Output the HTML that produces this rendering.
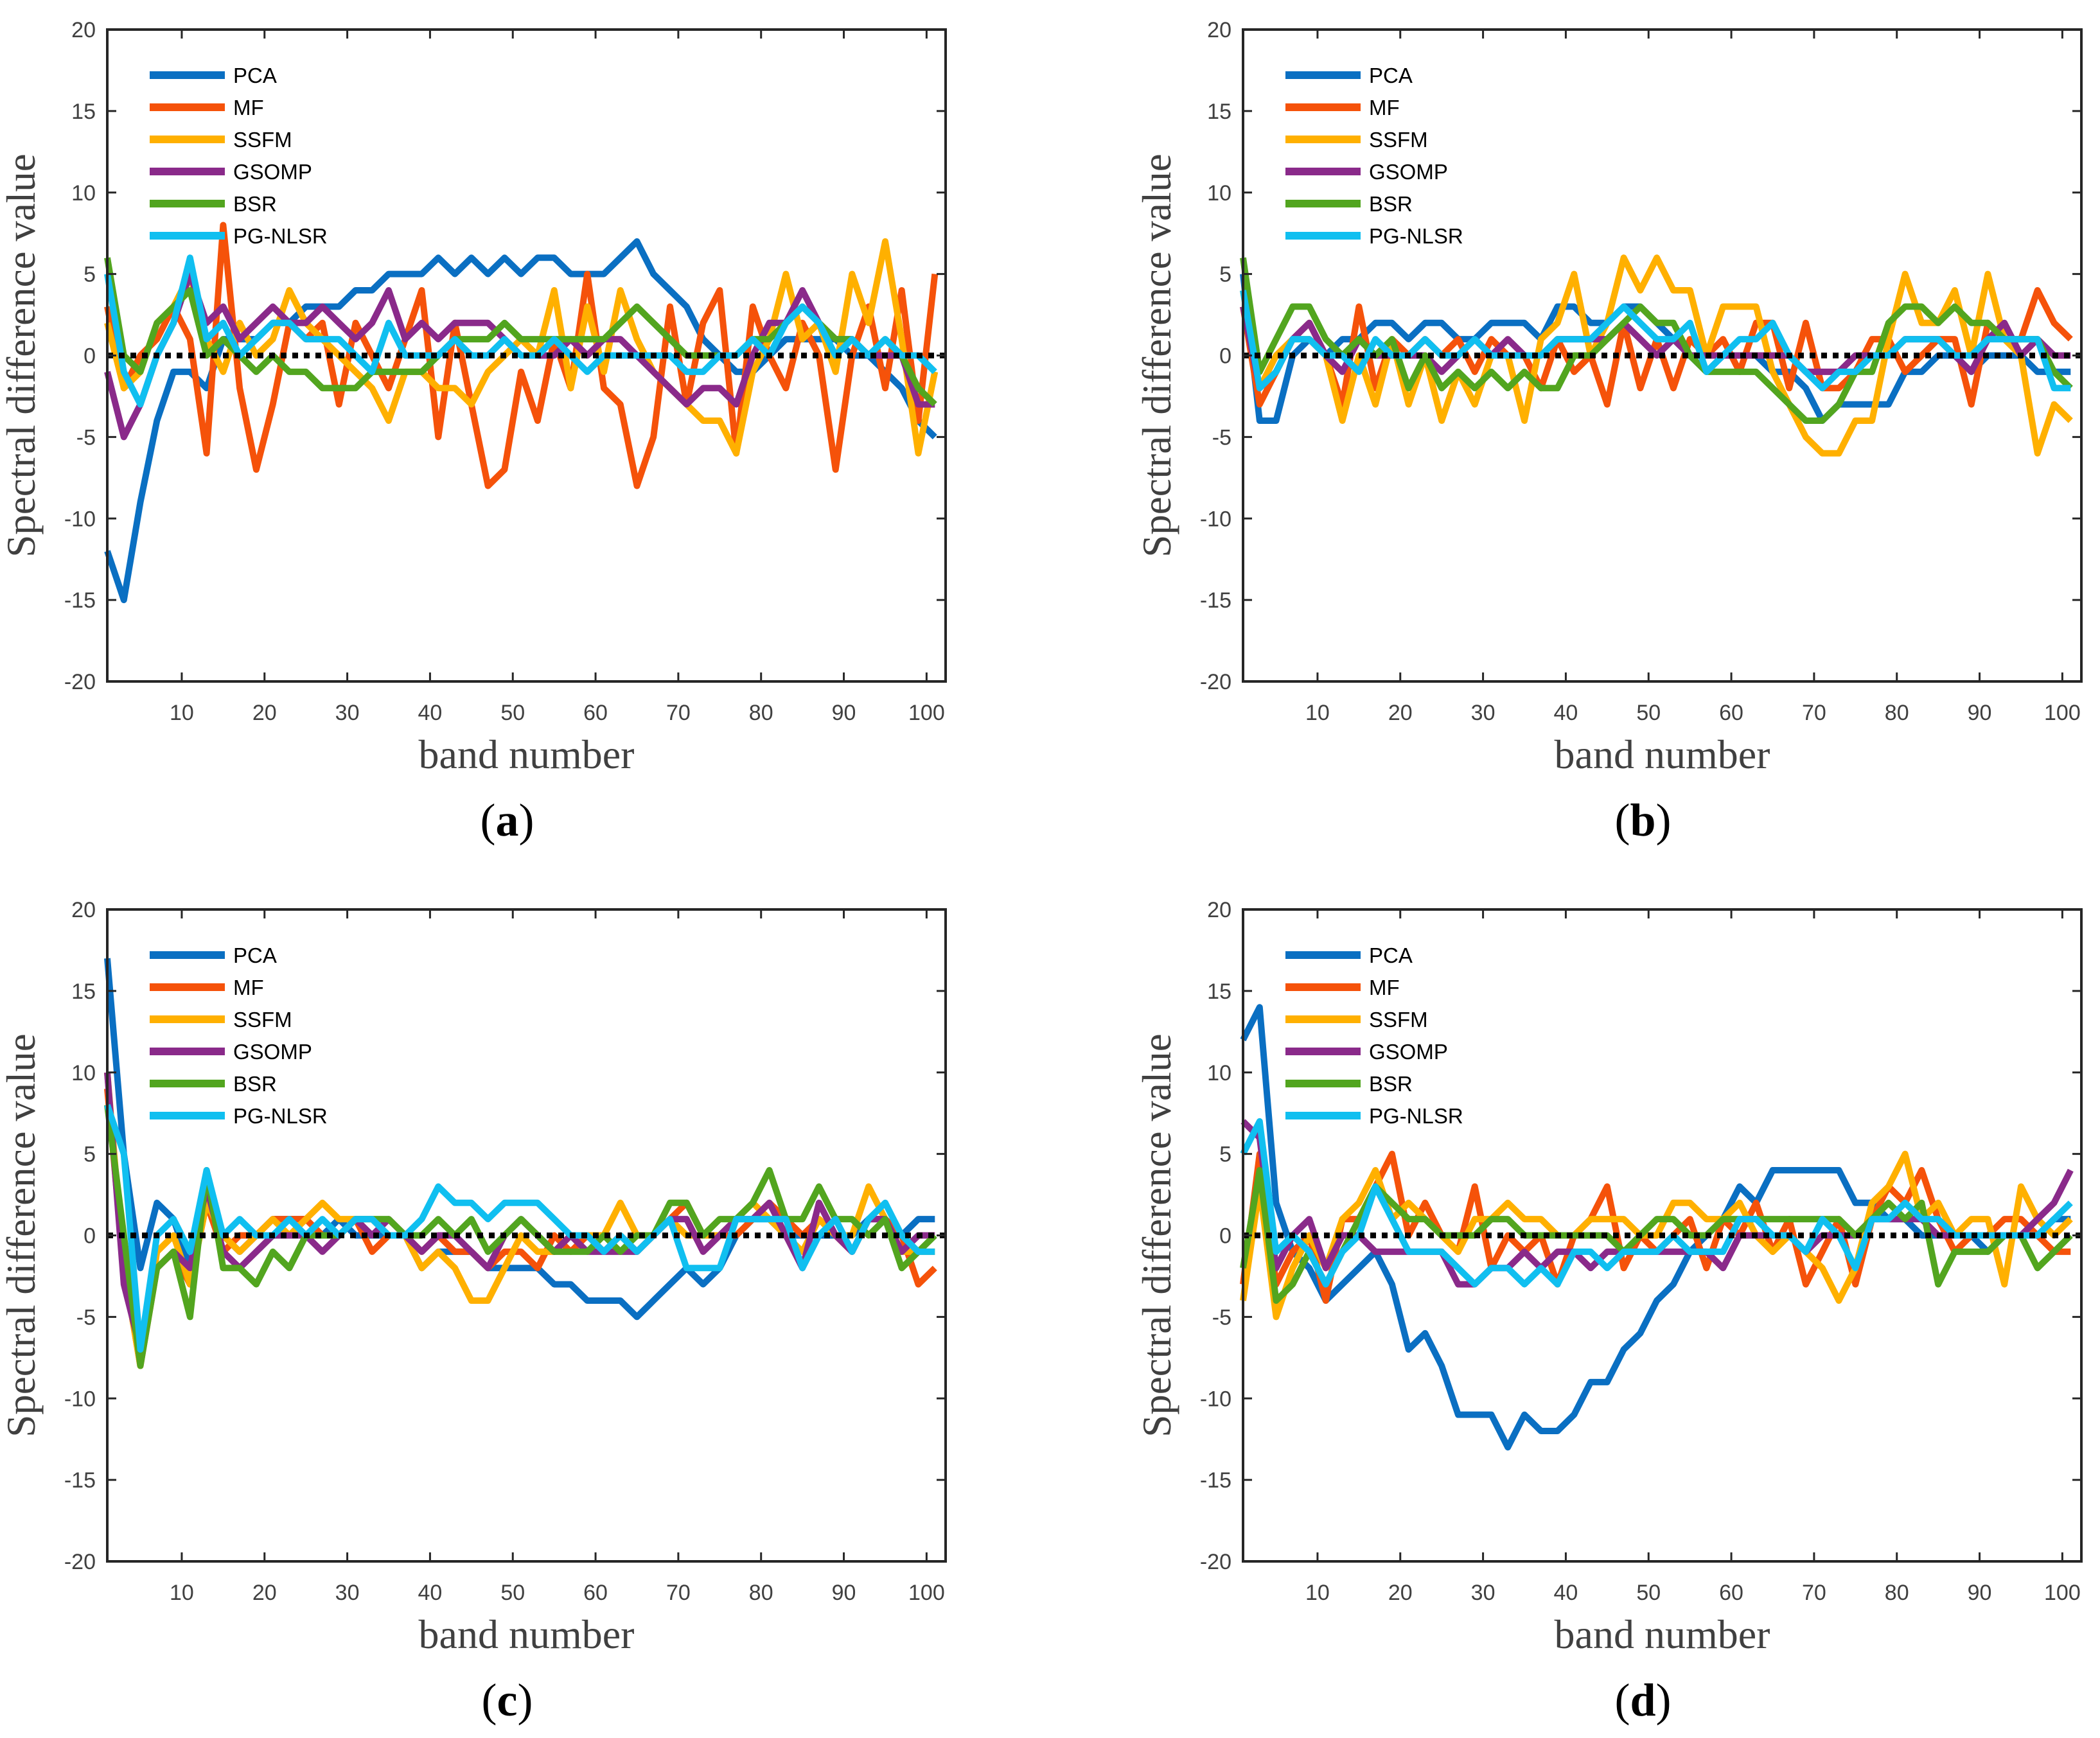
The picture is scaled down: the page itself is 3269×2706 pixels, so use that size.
<!DOCTYPE html>
<html><head><meta charset="utf-8"><style>
html,body{margin:0;padding:0;background:#fff;}
svg{display:block;}
</style></head><body>
<svg id="fig" width="3269" height="2706" viewBox="0 0 3269 2706" xmlns="http://www.w3.org/2000/svg"></svg>
<script>
const bands=[1,3,5,7,9,11,13,15,17,19,21,23,25,27,29,31,33,35,37,39,41,43,45,47,49,51,53,55,57,59,61,63,65,67,69,71,73,75,77,79,81,83,85,87,89,91,93,95,97,99,101];
const seriesNames=["PCA","MF","SSFM","GSOMP","BSR","PG-NLSR"];
const xTicks=[10,20,30,40,50,60,70,80,90,100];
const yTicks=[-20,-15,-10,-5,0,5,10,15,20];
const panelLabels=["(a)","(b)","(c)","(d)"];
// panel a
const a_PCA=[-12,-15,-9,-4,-1,-1,-2,1,1,1,2,2,3,3,3,4,4,5,5,5,6,5,6,5,6,5,6,6,5,5,5,6,7,5,4,3,1,0,-1,-1,0,1,1,1,1,0,0,-1,-2,-4,-5];
const a_MF=[3,-2,0,1,3,1,-6,8,-2,-7,-3,2,1,2,-3,2,0,-2,1,4,-5,2,-3,-8,-7,-1,-4,1,-2,5,-2,-3,-8,-5,3,-3,2,4,-6,3,0,-2,2,0,-7,0,3,-2,4,-4,5];
const a_SSFM=[2,-2,-1,2,3,5,1,-1,2,0,1,4,2,1,0,-1,-2,-4,-1,-1,-2,-2,-3,-1,0,1,0,4,-2,3,-1,4,1,-1,-2,-3,-4,-4,-6,-1,1,5,1,2,-1,5,2,7,1,-6,-1];
const a_GSOMP=[-1,-5,-3,0,2,5,2,3,1,2,3,2,2,3,2,1,2,4,1,2,1,2,2,2,1,0,0,0,1,0,1,1,0,-1,-2,-3,-2,-2,-3,0,2,2,4,2,1,1,0,0,0,-3,-3];
const a_BSR=[6,0,-1,2,3,4,0,1,0,-1,0,-1,-1,-2,-2,-2,-1,-1,-1,-1,0,1,1,1,2,1,1,1,1,1,1,2,3,2,1,0,0,0,0,1,1,2,3,2,1,1,0,1,0,-2,-3];
const a_PG=[5,-1,-3,0,2,6,1,2,0,1,2,2,1,1,1,0,-1,2,0,0,0,1,0,0,1,0,0,1,0,-1,0,0,0,0,0,-1,-1,0,0,1,0,2,3,2,0,1,0,1,0,0,-1];
// panel b
const b_PCA=[5,-4,-4,0,1,0,1,1,2,2,1,2,2,1,1,2,2,2,1,3,3,2,2,3,3,2,1,0,-1,0,0,0,-1,-1,-2,-4,-3,-3,-3,-3,-1,-1,0,0,-1,0,0,0,-1,-1,-1];
const b_MF=[3,-3,-1,1,2,0,-3,3,-2,1,0,1,0,1,-1,1,0,0,-2,1,-1,0,-3,2,-2,1,-2,1,0,1,-1,2,2,-2,2,-2,-2,-1,1,1,-1,0,1,1,-3,2,1,1,4,2,1];
const b_SSFM=[4,-2,0,1,1,0,-4,0,-3,1,-3,0,-4,-1,-3,0,0,-4,1,2,5,0,2,6,4,6,4,4,0,3,3,3,-1,-3,-5,-6,-6,-4,-4,1,5,2,2,4,0,5,1,0,-6,-3,-4];
const b_GSOMP=[3,-2,-1,1,2,0,-1,1,0,0,0,0,-1,0,1,0,1,0,0,1,1,1,1,2,1,0,1,0,0,0,0,0,0,0,-1,-1,-1,0,0,0,1,1,1,0,-1,1,2,0,1,0,0];
const b_BSR=[6,-1,1,3,3,1,0,1,0,1,-2,0,-2,-1,-2,-1,-2,-1,-2,-2,0,0,1,2,3,2,2,0,-1,-1,-1,-1,-2,-3,-4,-4,-3,-1,-1,2,3,3,2,3,2,2,1,1,1,-1,-2];
const b_PG=[4,-2,-1,1,1,0,0,-1,1,0,0,1,0,0,1,0,0,0,0,1,1,1,2,3,2,1,1,2,-1,0,1,1,2,0,-1,-2,-1,-1,0,0,1,1,1,0,0,1,1,1,1,-2,-2];
// panel c
const c_PCA=[17,5,-2,2,1,-2,3,0,-1,0,1,1,1,0,1,0,0,0,0,-2,-1,-1,-1,-2,-2,-2,-2,-3,-3,-4,-4,-4,-5,-4,-3,-2,-3,-2,0,1,1,0,0,0,0,0,1,1,0,1,1];
const c_MF=[9,-2,-8,-2,-1,-3,2,-1,0,0,1,1,1,0,0,1,-1,0,0,-1,0,-1,-1,-2,-1,-1,-2,0,-1,0,-1,0,-1,0,1,2,0,0,0,1,2,1,0,1,0,-1,1,1,0,-3,-2];
const c_SSFM=[10,-2,-8,-1,0,-3,2,0,-1,0,1,0,1,2,1,1,1,0,0,-2,-1,-2,-4,-4,-2,0,-1,-1,0,0,0,2,0,0,1,0,0,0,1,2,1,0,-1,1,0,0,3,1,-1,-1,-1];
const c_GSOMP=[10,-3,-7,-2,-1,-2,3,-1,-2,-1,0,0,0,-1,0,1,0,1,0,-1,0,0,-1,-2,0,1,0,-1,0,-1,-1,-1,-1,0,1,1,-1,0,1,1,2,0,-2,2,0,-1,1,1,-1,0,0];
const c_BSR=[8,0,-8,-2,-1,-5,4,-2,-2,-3,-1,-2,0,0,0,1,1,1,0,0,1,0,1,-1,0,1,0,-1,-1,-1,0,-1,0,0,2,2,0,1,1,2,4,1,1,3,1,1,0,1,-2,-1,0];
const c_PG=[8,5,-7,0,1,-1,4,0,1,0,0,1,0,1,0,1,1,0,0,1,3,2,2,1,2,2,2,1,0,0,-1,0,-1,0,1,-2,-2,-2,1,1,1,1,-2,0,1,-1,1,2,0,-1,-1];
// panel d
const d_PCA=[12,14,2,-1,-2,-4,-3,-2,-1,-3,-7,-6,-8,-11,-11,-11,-13,-11,-12,-12,-11,-9,-9,-7,-6,-4,-3,-1,0,1,3,2,4,4,4,4,4,2,2,1,1,0,0,0,0,-1,0,0,0,1,1];
const d_MF=[-3,5,-3,-1,0,-4,1,1,3,5,0,2,0,-1,3,-2,0,-1,0,-3,0,1,3,-2,0,-1,0,1,-2,1,0,2,-1,1,-3,-1,1,-3,1,3,2,4,1,-1,0,0,1,1,0,-1,-1];
const d_SSFM=[-4,3,-5,-2,0,-2,1,2,4,1,2,1,0,-1,1,1,2,1,1,0,0,1,1,1,0,0,2,2,1,1,2,0,-1,0,-1,-2,-4,-2,2,3,5,1,2,0,1,1,-3,3,1,0,1];
const d_GSOMP=[7,6,-2,0,1,-2,0,0,-1,-1,-1,-1,-1,-3,-3,-2,-2,-1,-2,-1,-1,-2,-1,-1,-1,-1,-1,-1,-1,-2,0,0,0,0,-1,0,0,0,1,1,1,1,0,0,0,0,0,0,1,2,4];
const d_BSR=[-2,4,-4,-3,-1,-3,-1,1,3,2,1,1,0,0,0,1,1,0,0,0,0,0,0,-1,0,1,1,0,0,1,1,1,1,1,1,1,1,0,1,2,1,2,-3,-1,-1,-1,0,0,-2,-1,0];
const d_PG=[5,7,-1,0,-1,-3,-1,0,3,1,-1,-1,-1,-2,-3,-2,-2,-3,-2,-3,-1,-1,-2,-1,-1,-1,0,-1,-1,-1,1,1,0,0,-1,1,0,-2,1,1,2,1,1,0,0,0,0,0,0,1,2];

const panelData=[[a_PCA,a_MF,a_SSFM,a_GSOMP,a_BSR,a_PG],[b_PCA,b_MF,b_SSFM,b_GSOMP,b_BSR,b_PG],[c_PCA,c_MF,c_SSFM,c_GSOMP,c_BSR,c_PG],[d_PCA,d_MF,d_SSFM,d_GSOMP,d_BSR,d_PG]];
const colors=["#0a6fc2","#f5520a","#ffb000","#8a2a8a","#52a51f","#10bff0"];

const NS="http://www.w3.org/2000/svg";
const svg=document.getElementById('fig');
function mk(tag,attrs,parent){const e=document.createElementNS(NS,tag);for(const k in attrs)e.setAttribute(k,attrs[k]);(parent||svg).appendChild(e);return e;}

const boxes=[{l:167,r:1472,t:46,b:1061},{l:1935,r:3240,t:46,b:1061},{l:167,r:1472,t:1416,b:2431},{l:1935,r:3240,t:1416,b:2431}];
const XMIN=1,XMAX=102.3,YMIN=-20,YMAX=20;

boxes.forEach((B,pi)=>{
  const g=mk('g',{});
  
  
  const sx=v=>B.l+(v-XMIN)/(XMAX-XMIN)*(B.r-B.l);
  const sy=v=>B.b-(v-YMIN)/(YMAX-YMIN)*(B.b-B.t);
  panelData[pi].forEach((vals,si)=>{
    const pts=bands.map((b,i)=>sx(b).toFixed(1)+','+sy(vals[i]).toFixed(1)).join(' ');
    const pl=mk('polyline',{points:pts,fill:'none',stroke:colors[si],'stroke-width':10,'stroke-linejoin':'round'},g);
    
    
  });
  const z=mk('line',{x1:B.l,x2:B.r,y1:sy(0),y2:sy(0),stroke:'#000','stroke-width':9,'stroke-dasharray':'9 9'},g);
  
  
  const bx=mk('rect',{x:B.l,y:B.t,width:B.r-B.l,height:B.b-B.t,fill:'none',stroke:'#262626','stroke-width':4},g);
  
  
  xTicks.forEach(v=>{
    const x=sx(v);
    mk('line',{x1:x,x2:x,y1:B.b,y2:B.b-14,stroke:'#262626','stroke-width':3},g);
    mk('line',{x1:x,x2:x,y1:B.t,y2:B.t+14,stroke:'#262626','stroke-width':3},g);
    const t=mk('text',{x:x,y:B.b+60,'text-anchor':'middle','font-family':'Liberation Sans, sans-serif','font-size':34,fill:'#404040'},g);
    t.textContent=v;
    
    
  });
  yTicks.forEach(v=>{
    const y=sy(v);
    mk('line',{x1:B.l,x2:B.l+14,y1:y,y2:y,stroke:'#262626','stroke-width':3},g);
    mk('line',{x1:B.r,x2:B.r-14,y1:y,y2:y,stroke:'#262626','stroke-width':3},g);
    const t=mk('text',{x:B.l-18,y:y+12,'text-anchor':'end','font-family':'Liberation Sans, sans-serif','font-size':34,fill:'#404040'},g);
    t.textContent=v;
    
    
  });
  const xl=mk('text',{x:(B.l+B.r)/2,y:B.b+135,'text-anchor':'middle','font-family':'Liberation Serif, serif','font-size':64,fill:'#404040'},g);
  xl.textContent='band number';
  
  
  const yc=(B.t+B.b)/2, yx=B.l-113;
  const yl=mk('text',{x:yx,y:yc,'text-anchor':'middle','font-family':'Liberation Serif, serif','font-size':63,fill:'#404040',transform:`rotate(-90 ${yx} ${yc})`},g);
  yl.textContent='Spectral difference value';
  
  
  const pl=mk('text',{x:(B.l+B.r)/2-30,y:B.b+240,'text-anchor':'middle','font-family':'Liberation Serif, serif','font-size':72,fill:'#000'},g);
  pl.innerHTML='(<tspan font-weight="bold">'+'abcd'[pi]+'</tspan>)';
  
  
  const lg=mk('g',{},g);
  
  
  seriesNames.forEach((n,si)=>{
    const y=B.t+71+si*50;
    const ln=mk('line',{x1:B.l+66,x2:B.l+183,y1:y,y2:y,stroke:colors[si],'stroke-width':12},lg);
    
    
    const t=mk('text',{x:B.l+196,y:y+12,'font-family':'Liberation Sans, sans-serif','font-size':33,fill:'#000'},lg);
    t.textContent=n;
    
    
  });
});
</script>
</body></html>
